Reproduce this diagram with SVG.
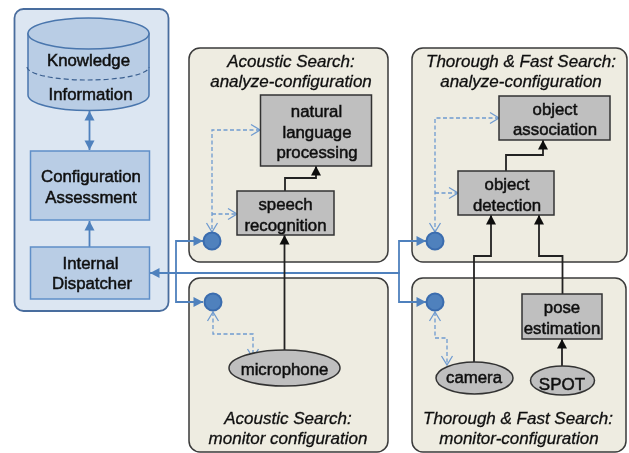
<svg xmlns="http://www.w3.org/2000/svg" width="629" height="453" viewBox="0 0 629 453">
<defs>
<filter id="soft" filterUnits="userSpaceOnUse" x="0" y="0" width="629" height="453"><feGaussianBlur stdDeviation="0.4"/></filter>
<marker id="bf" markerUnits="userSpaceOnUse" markerWidth="12" markerHeight="12" refX="10" refY="6" orient="auto-start-reverse"><path d="M0.500 1L10 6L0.500 11Z" fill="#4f81bd"/></marker>
<marker id="kf" markerUnits="userSpaceOnUse" markerWidth="12" markerHeight="12" refX="10" refY="6" orient="auto"><path d="M0.500 1L10 6L0.500 11Z" fill="#111"/></marker>
<marker id="op" markerUnits="userSpaceOnUse" markerWidth="12" markerHeight="14" refX="10" refY="7" orient="auto-start-reverse"><path d="M1 1.500L10 7L1 12.500" fill="none" stroke="#6f9bd0" stroke-width="1.300"/></marker>
</defs>
<style>
text{font-family:"Liberation Sans",Arial,sans-serif;text-anchor:middle;fill:#111;stroke:#111;stroke-width:.5}
.l{font-size:16.800px}
.t{font-size:17px;font-style:italic;stroke-width:.3}
.panel{fill:#eeece1;stroke:#3a3a3a;stroke-width:1.500}
.gray{fill:#bfbfbf;stroke:#333;stroke-width:1.500}
.blue{fill:#b9cde5;stroke:#5f8fc8;stroke-width:1.500}
.dot{fill:#4f81bd;stroke:#3a6cae;stroke-width:2}
.bl{fill:none;stroke:#4f81bd;stroke-width:1.800}
.bk{fill:none;stroke:#222;stroke-width:1.800}
.da{fill:none;stroke:#6f9bd0;stroke-width:1.300;stroke-dasharray:4 2.500}
</style>
<rect width="629" height="453" fill="#fff"/>
<g filter="url(#soft)">
<g id="agent-panel"><rect x="14.500" y="9" width="154" height="302" rx="9" fill="#dce6f2" stroke="#4a6d9e" stroke-width="1.800"/></g>
<g id="acoustic-analyze"><rect class="panel" x="189" y="48" width="199" height="214" rx="11"/><text class="t" x="291" y="67">Acoustic Search:</text><text class="t" x="291" y="87">analyze-configuration</text></g>
<g id="thorough-analyze"><rect class="panel" x="412" y="48" width="215" height="214" rx="11"/><text class="t" x="521" y="67">Thorough &amp; Fast Search:</text><text class="t" x="521" y="87">analyze-configuration</text></g>
<g id="acoustic-monitor"><rect class="panel" x="189" y="278" width="199" height="174" rx="11"/><text class="t" x="288" y="424">Acoustic Search:</text><text class="t" x="288" y="444">monitor configuration</text></g>
<g id="thorough-monitor"><rect class="panel" x="412" y="278" width="214" height="174" rx="11"/><text class="t" x="518" y="424">Thorough &amp; Fast Search:</text><text class="t" x="519" y="444">monitor-configuration</text></g>
<g id="connectors">
<path class="bl" d="M89.500 150V111" marker-start="url(#bf)" marker-end="url(#bf)"/>
<path class="bl" d="M89.500 247V221" marker-end="url(#bf)"/>
<path class="bl" d="M400 273H150" marker-end="url(#bf)"/>
<path class="bl" d="M203 241H176V302H203" marker-start="url(#bf)" marker-end="url(#bf)"/>
<path class="bl" d="M426 241H399V302H426" marker-start="url(#bf)" marker-end="url(#bf)"/>
<path class="da" d="M260 130H212V232" marker-start="url(#op)" marker-end="url(#op)"/>
<path class="da" d="M212 214H237" marker-end="url(#op)"/>
<path class="da" d="M499 118H435V232" marker-start="url(#op)" marker-end="url(#op)"/>
<path class="da" d="M435 193H458" marker-end="url(#op)"/>
<path class="da" d="M213 312V334H253V358" marker-start="url(#op)" marker-end="url(#op)"/>
<path class="da" d="M435 312V338H447V365" marker-start="url(#op)" marker-end="url(#op)"/>
<path class="bk" d="M285 191V178H316V166" marker-end="url(#kf)"/>
<path class="bk" d="M284.500 350V235" marker-end="url(#kf)"/>
<path class="bk" d="M506 171V155H543V140" marker-end="url(#kf)"/>
<path class="bk" d="M474 362V256H491V215" marker-end="url(#kf)"/>
<path class="bk" d="M562.500 294V256H539V215" marker-end="url(#kf)"/>
<path class="bk" d="M562 366V339" marker-end="url(#kf)"/>
</g>
<g id="database">
<path d="M28 33.500V95A60.500 15.500 0 0 0 149 95V33.500Z" fill="#b9cde5" stroke="#4a76ad" stroke-width="1.500"/>
<ellipse cx="88.500" cy="33.500" rx="60.500" ry="15.500" fill="#b9cde5" stroke="#4a76ad" stroke-width="1.500"/>
<path d="M27 67A61 13 0 0 0 149 67" fill="none" stroke="#3a5f8f" stroke-width="1.200" stroke-dasharray="5 3"/>
<text class="l" x="88.500" y="66">Knowledge</text><text class="l" x="90.500" y="100">Information</text>
</g>
<g id="config-assessment"><rect class="blue" x="30.500" y="151" width="119" height="69"/><text class="l" x="91" y="182">Configuration</text><text class="l" x="91" y="203">Assessment</text></g>
<g id="internal-dispatcher"><rect class="blue" x="30.500" y="247" width="119" height="52"/><text class="l" x="90.500" y="269">Internal</text><text class="l" x="92" y="289">Dispatcher</text></g>
<g id="nlp"><rect class="gray" x="260.500" y="95" width="111" height="71"/><text class="l" x="316.500" y="117">natural</text><text class="l" x="317" y="138">language</text><text class="l" x="317" y="158">processing</text></g>
<g id="speech-recognition"><rect class="gray" x="237" y="191" width="97" height="44"/><text class="l" x="285.500" y="210">speech</text><text class="l" x="285.500" y="231">recognition</text></g>
<g id="object-association"><rect class="gray" x="499" y="96" width="111" height="44"/><text class="l" x="555" y="115">object</text><text class="l" x="555" y="135">association</text></g>
<g id="object-detection"><rect class="gray" x="458" y="171" width="96" height="44"/><text class="l" x="507" y="190">object</text><text class="l" x="507" y="211">detection</text></g>
<g id="pose-estimation"><rect class="gray" x="522" y="294" width="80" height="45"/><text class="l" x="562" y="313">pose</text><text class="l" x="562" y="334">estimation</text></g>
<g id="microphone"><ellipse class="gray" cx="284.500" cy="368" rx="55.500" ry="18"/><text class="l" x="284.500" y="375">microphone</text></g>
<g id="camera"><ellipse class="gray" cx="474.500" cy="378" rx="38.500" ry="16"/><text class="l" x="474" y="383">camera</text></g>
<g id="spot"><ellipse class="gray" cx="562.500" cy="380.500" rx="32" ry="14.500"/><text class="l" x="562" y="390" style="font-size:17px">SPOT</text></g>
<g id="ports"><circle class="dot" cx="212" cy="241" r="8.500"/><circle class="dot" cx="435" cy="241" r="8.500"/><circle class="dot" cx="213" cy="302" r="8.500"/><circle class="dot" cx="435" cy="302" r="8.500"/></g>
</g>
</svg>
